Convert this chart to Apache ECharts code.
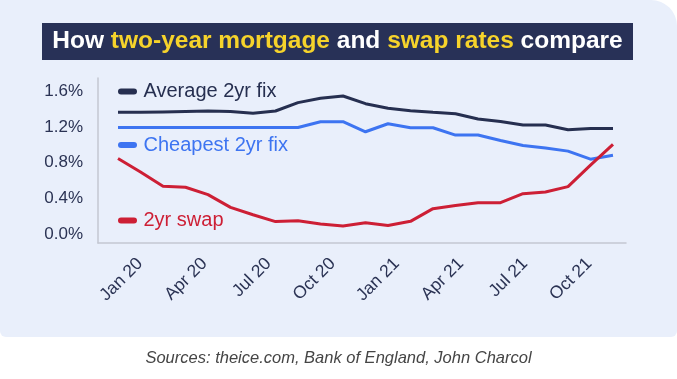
<!DOCTYPE html>
<html>
<head>
<meta charset="utf-8">
<script src="https://cdn.jsdelivr.net/npm/echarts@6/dist/echarts.min.js"></script>
<style>
  html, body { margin: 0; padding: 0; background: #ffffff; }
  #chart { width: 677px; height: 379px; }
</style>
</head>
<body>
<div id="chart"></div>
<script>
// ---- Data ----
const months = ['Jan 20','Feb 20','Mar 20','Apr 20','May 20','Jun 20','Jul 20','Aug 20','Sep 20','Oct 20','Nov 20','Dec 20',
                'Jan 21','Feb 21','Mar 21','Apr 21','May 21','Jun 21','Jul 21','Aug 21','Sep 21','Oct 21','Nov 21'];
const averageFix  = [1.365, 1.365, 1.37, 1.375, 1.38, 1.375, 1.355, 1.38, 1.474, 1.522, 1.548, 1.462,
                     1.41, 1.384, 1.365, 1.35, 1.29, 1.263, 1.222, 1.222, 1.17, 1.185, 1.185];
const cheapestFix = [1.195, 1.195, 1.195, 1.195, 1.195, 1.195, 1.195, 1.195, 1.195, 1.26, 1.26, 1.147,
                     1.237, 1.192, 1.192, 1.11, 1.11, 1.05, 0.994, 0.964, 0.93, 0.84, 0.885];
const swap2yr     = [0.847, 0.697, 0.536, 0.525, 0.442, 0.30, 0.217, 0.14, 0.15, 0.112, 0.09, 0.127,
                     0.097, 0.143, 0.285, 0.32, 0.352, 0.352, 0.453, 0.472, 0.532, 0.773, 1.005];
const xTickLabels = ['Jan 20','Apr 20','Jul 20','Oct 20','Jan 21','Apr 21','Jul 21','Oct 21'];
const yTickValues = [0, 0.4, 0.8, 1.2, 1.6];
const seriesNames = ['Average 2yr fix', 'Cheapest 2yr fix', '2yr swap'];

// ---- Styling ----
const FONT = '"Liberation Sans", Arial, Helvetica, sans-serif';
const NAVY = '#262f50', BLUE = '#3d74f1', RED = '#cd1f35';
const AXIS_TEXT = '#2b3354', AXIS_LINE = '#c3c7d2';
// label anchor positions along the x scale (as placed in the reference)
const xLabelPos = [0.98, 3.84, 6.69, 9.54, 12.39, 15.24, 18.09, 20.94];

const chart = echarts.init(document.getElementById('chart'), null, { renderer: 'canvas' });

const legendIcon = 'path://M3,0 H16 A3,3 0 0 1 16,6 H3 A3,3 0 0 1 3,0 Z';
function legendFor(name, color, top) {
  return {
    data: [name], left: 118, top: top, padding: 0,
    icon: legendIcon, itemWidth: 22, itemHeight: 6, selectedMode: false,
    textStyle: { color: color, fontSize: 20, fontFamily: FONT, lineHeight: 20 }
  };
}

chart.setOption({
  backgroundColor: '#ffffff',
  animation: false,
  textStyle: { fontFamily: FONT },
  graphic: [
    { type: 'rect', z: -10, shape: { x: 0, y: 0, width: 677, height: 337, r: [0, 26, 6, 6] },
      style: { fill: '#e9effb' } },
    { type: 'rect', z: 5, shape: { x: 42, y: 23, width: 591, height: 37 }, style: { fill: '#283157' } },
    { type: 'text', z: 6, x: 337.5, y: 41.5,
      style: {
        text: '{w|How }{y|two-year mortgage}{w| and }{y|swap rates}{w| compare}',
        align: 'center', verticalAlign: 'middle',
        rich: {
          w: { fill: '#ffffff', fontSize: 24.5, fontWeight: 'bold', fontFamily: FONT },
          y: { fill: '#f6d32b', fontSize: 24.5, fontWeight: 'bold', fontFamily: FONT }
        }
      } },
    { type: 'text', z: 6, x: 338.5, y: 358,
      style: { text: 'Sources: theice.com, Bank of England, John Charcol', align: 'center', verticalAlign: 'middle',
               fill: '#454545', fontSize: 16.5, fontStyle: 'italic', fontFamily: FONT } }
  ],
  legend: [
    legendFor(seriesNames[0], NAVY, 81.5),
    legendFor(seriesNames[1], BLUE, 135),
    legendFor(seriesNames[2], RED, 210.5)
  ],
  grid: { left: 98, right: 51, top: 78, bottom: 136, containLabel: false },
  xAxis: {
    type: 'value', min: -0.889, max: 22.578,
    splitLine: { show: false },
    axisTick: { show: false },
    axisLine: { show: true, onZero: false, lineStyle: { color: AXIS_LINE, width: 1.5 } },
    axisLabel: {
      customValues: xLabelPos, rotate: 45, margin: 18,
      color: AXIS_TEXT, fontSize: 17.5, fontFamily: FONT,
      formatter: v => xTickLabels[xLabelPos.indexOf(v)] || ''
    }
  },
  yAxis: {
    type: 'value', min: -0.1, max: 1.75,
    splitLine: { show: false },
    axisTick: { show: false },
    axisLine: { show: true, onZero: false, lineStyle: { color: AXIS_LINE, width: 1.5 } },
    axisLabel: {
      customValues: yTickValues, margin: 15,
      color: AXIS_TEXT, fontSize: 17, fontFamily: FONT,
      formatter: v => v.toFixed(1) + '%'
    }
  },
  series: [
    { name: seriesNames[0], type: 'line', showSymbol: false, color: NAVY,
      lineStyle: { width: 3, color: NAVY }, data: averageFix.map((v, i) => [i, v]) },
    { name: seriesNames[1], type: 'line', showSymbol: false, color: BLUE,
      lineStyle: { width: 3, color: BLUE }, data: cheapestFix.map((v, i) => [i, v]) },
    { name: seriesNames[2], type: 'line', showSymbol: false, color: RED,
      lineStyle: { width: 3, color: RED }, data: swap2yr.map((v, i) => [i, v]) }
  ]
});
</script>
</body>
</html>
